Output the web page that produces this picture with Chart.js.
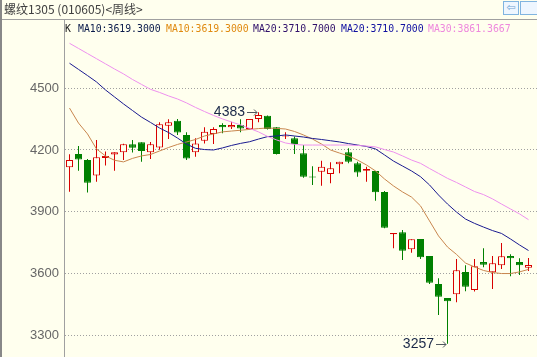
<!DOCTYPE html>
<html><head><meta charset="utf-8">
<script src="https://cdn.jsdelivr.net/npm/chart.js@4/dist/chart.umd.min.js"></script>
<style>
html,body{margin:0;padding:0;background:#ffffee;}
#wrap{position:relative;width:537px;height:357px;overflow:hidden;background:#ffffee;}
#c{position:absolute;left:0;top:0;}
#title{position:absolute;left:4px;top:0px;font:12px "Noto Sans CJK SC",sans-serif;color:#404040;line-height:18px;white-space:nowrap;}
.lg{position:absolute;top:23px;font:9.8px "DejaVu Sans Mono",monospace;line-height:12px;white-space:pre;}
#topline{position:absolute;left:0;top:19px;width:537px;height:1px;background:#a0a0a0;}
#leftbar{position:absolute;left:0;top:0;width:2px;height:357px;background:#888;}
.ib{position:absolute;top:1px;height:12px;border:1px solid #80b4e0;background:#eef6ff;color:#70a4d4;font:11px "DejaVu Sans",sans-serif;line-height:12px;text-align:center;}
</style></head>
<body>
<div id="wrap">
<canvas id="c" width="537" height="357"></canvas>
<div id="title">螺纹1305 (010605)&lt;周线&gt;</div>
<div class="ib" style="left:503px;width:14px;">⇦</div>
<div class="ib" style="left:520px;width:20px;"></div>
<div id="topline"></div>
<div id="leftbar"></div>
<div class="lg" style="left:65px;color:#202020;">K</div>
<div class="lg" style="left:78px;color:#0a1a4a;">MA10:3619.3000</div>
<div class="lg" style="left:166px;color:#e08a10;">MA10:3619.3000</div>
<div class="lg" style="left:253px;color:#30106a;">MA20:3710.7000</div>
<div class="lg" style="left:341px;color:#1010a0;">MA20:3710.7000</div>
<div class="lg" style="left:428px;color:#ee88dd;">MA30:3861.3667</div>
</div>
<script>
const opens  = [4116,4180,4151,4076,4161,4178,4189,4228,4237,4189,4212,4318,4342,4273,4189,4245,4278,4321,4310,4321,4302,4351,4367,4310,4265,4257,4184,4071,4094,4083,4130,4189,4135,4099,4098,3996,3790,3800,3717,3767,3684,3548,3480,3498,3607,3519,3655,3605,3639,3684,3655,3627];
const highs  = [4179,4219,4156,4248,4193,4189,4230,4248,4237,4239,4335,4350,4351,4286,4257,4310,4310,4330,4337,4350,4351,4383,4368,4312,4286,4265,4224,4121,4148,4140,4143,4208,4143,4119,4098,4001,3796,3811,3766,3767,3684,3576,3480,3670,3639,3670,3722,3684,3748,3693,3673,3675];
const lows   = [3997,4099,3993,4046,4124,4099,4151,4188,4143,4156,4201,4253,4273,4151,4167,4232,4229,4281,4302,4286,4300,4335,4300,4178,4253,4180,4065,4030,4026,4038,4087,4135,4070,4046,3953,3819,3722,3665,3700,3670,3548,3397,3257,3459,3513,3511,3629,3524,3621,3586,3592,3611];
const closes = [4151,4154,4041,4164,4171,4189,4228,4211,4195,4228,4325,4335,4285,4158,4232,4289,4302,4310,4321,4305,4351,4370,4302,4180,4269,4229,4070,4066,4119,4111,4143,4143,4091,4108,3994,3822,3796,3710,3766,3678,3554,3486,3464,3615,3535,3634,3642,3649,3683,3673,3639,3641];
const ma10 = [4404,4331,4278,4205,4171,4150,4142,4159,4171,4178,4195,4212,4227,4239,4251,4268,4278,4288,4292,4296,4300,4304,4307,4305,4302,4290,4273,4253,4229,4200,4185,4171,4151,4127,4098,4059,4025,3996,3971,3928,3855,3782,3728,3692,3650,3631,3614,3604,3599,3599,3607,3619];
const ma20 = [4622,4592,4562,4531,4492,4458,4424,4392,4360,4334,4307,4285,4258,4229,4208,4202,4200,4210,4222,4232,4240,4253,4265,4268,4273,4268,4263,4256,4251,4245,4239,4231,4224,4217,4205,4176,4146,4122,4098,4070,4030,3981,3937,3898,3864,3843,3825,3808,3794,3767,3738,3711];
const ma30 = [4719,4694,4669,4644,4619,4594,4570,4543,4519,4495,4480,4463,4448,4429,4407,4387,4368,4351,4336,4322,4305,4288,4266,4249,4234,4227,4224,4224,4224,4224,4224,4224,4222,4219,4215,4202,4190,4171,4151,4135,4110,4086,4062,4042,4020,3998,3983,3962,3937,3913,3889,3861];
const yTicks = [3300,3600,3900,4200,4500];
const weeks = opens.map((_, i) => i);

const UP = '#d80000', DOWN = '#008000', BG = '#ffffee';
const up = i => closes[i] >= opens[i];

const markPlugin = {
  id: 'marks',
  afterDatasetsDraw(chart) {
    const {ctx, scales: {x, y}} = chart;
    const hi = Math.max(...highs), hiI = highs.indexOf(hi);
    const lo = Math.min(...lows), loI = lows.indexOf(lo);
    const draw = (i, v) => {
      const px = Math.round(x.getPixelForValue(i)) - 2;
      const py = Math.round(y.getPixelForValue(v)) + 0.5;
      ctx.save();
      ctx.strokeStyle = '#505860'; ctx.lineWidth = 1;
      ctx.beginPath();
      ctx.moveTo(px - 10, py); ctx.lineTo(px, py);
      ctx.moveTo(px - 3, py - 3); ctx.lineTo(px, py); ctx.lineTo(px - 3, py + 3);
      ctx.stroke();
      ctx.fillStyle = '#1a2848';
      ctx.font = '14px "Liberation Sans"';
      ctx.textAlign = 'right'; ctx.textBaseline = 'middle';
      ctx.fillText(String(v), px - 12, py);
      ctx.restore();
    };
    draw(hiI, hi); draw(loI, lo);
  }
};

new Chart(document.getElementById('c'), {
  type: 'bar',
  data: {
    datasets: [
      { type: 'line', data: weeks.map(i => ({x: i, y: ma30[i]})), borderColor: '#ee90ee', borderWidth: 1, pointRadius: 0, fill: false, order: 0 },
      { type: 'line', data: weeks.map(i => ({x: i, y: ma20[i]})), borderColor: '#1a1a90', borderWidth: 1, pointRadius: 0, fill: false, order: 0 },
      { type: 'line', data: weeks.map(i => ({x: i, y: ma10[i]})), borderColor: '#c8864e', borderWidth: 1, pointRadius: 0, fill: false, order: 0 },
      { data: weeks.map(i => ({x: i, y: [opens[i], closes[i]]})), barThickness: 7, grouped: false,
        backgroundColor: weeks.map(i => up(i) ? BG : DOWN), borderColor: weeks.map(i => up(i) ? UP : DOWN),
        borderWidth: 1, borderSkipped: false, inflateAmount: 0, order: 1 },
      { data: weeks.map(i => ({x: i, y: [lows[i], highs[i]]})), barThickness: 1, grouped: false,
        backgroundColor: weeks.map(i => up(i) ? UP : DOWN), borderWidth: 0, inflateAmount: 0, order: 2 }
    ]
  },
  options: {
    responsive: false, animation: false, devicePixelRatio: 1,
    layout: { padding: { top: 20, left: 0, right: 0, bottom: 0 } },
    plugins: { legend: { display: false }, tooltip: { enabled: false } },
    scales: {
      x: { type: 'linear', min: -0.6111, max: 51.9444, display: false, offset: false },
      y: {
        type: 'linear', min: 3193, max: 4832.2, position: 'left',
        afterBuildTicks(s) { s.ticks = yTicks.map(v => ({value: v})); },
        afterFit(s) { s.width = 64; s.paddingTop = 0; s.paddingBottom = 0; },
        ticks: { color: '#666', font: { family: 'Liberation Sans', size: 13 }, padding: 5, callback: v => String(v) },
        grid: { color: '#a0a0a0', drawTicks: false, lineWidth: 1 },
        border: { display: true, color: '#a0a0a0', dash: [1, 2] }
      }
    }
  },
  plugins: [markPlugin]
});
</script>
</body></html>
